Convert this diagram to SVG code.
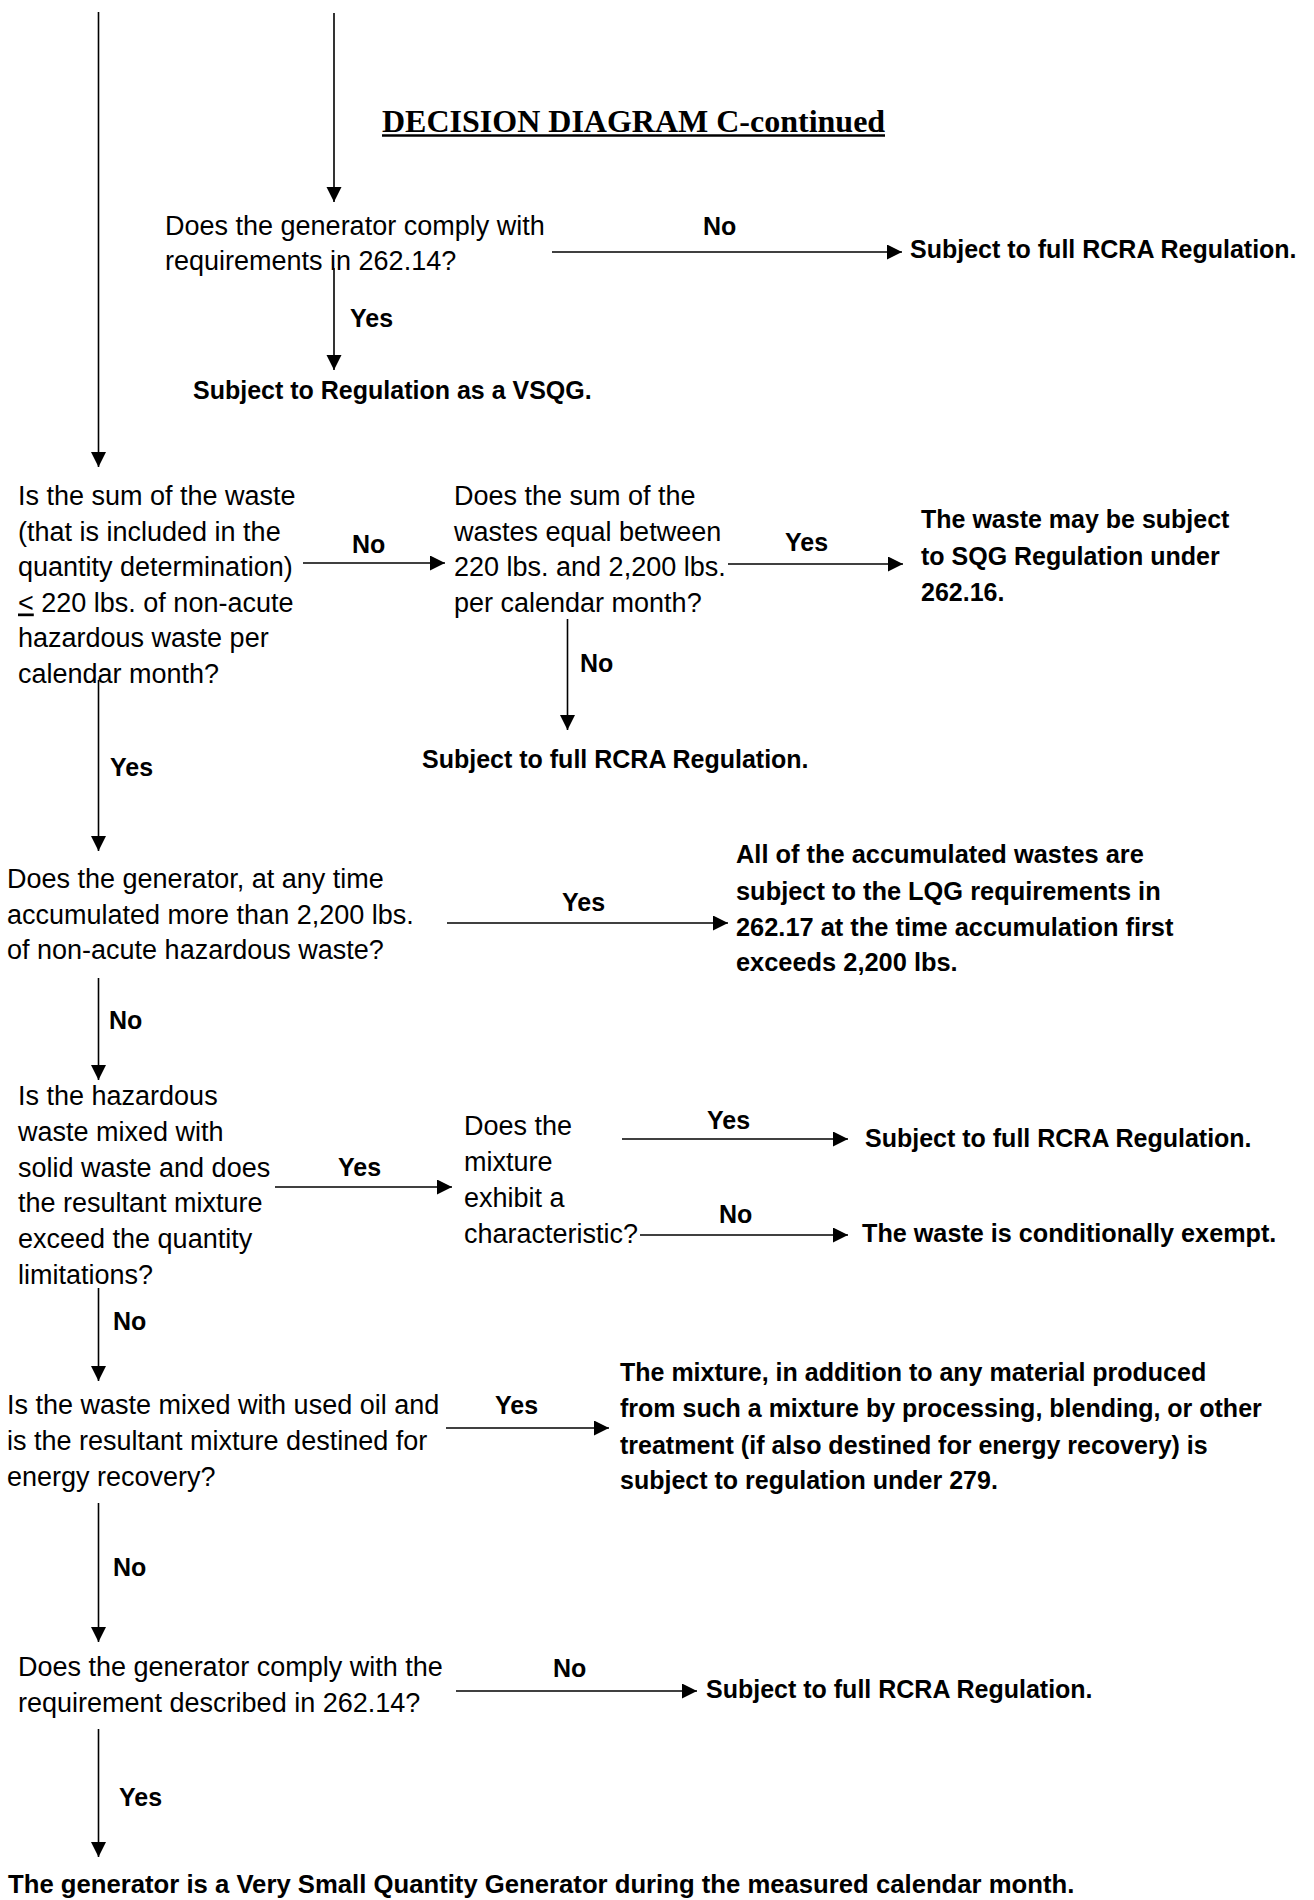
<svg xmlns="http://www.w3.org/2000/svg" width="1314" height="1900" viewBox="0 0 1314 1900">
<style>
  text { fill: #000; }
  .q { font-family: "Liberation Sans", Arial, sans-serif; font-size: 27px; }
  .b { font-family: "Liberation Sans", Arial, sans-serif; font-size: 25px; font-weight: bold; }
  .t { font-family: "Liberation Serif", "Times New Roman", serif; font-size: 32px; font-weight: bold; }
  .c { stroke: #000; stroke-width: 1.6; fill: none; marker-end: url(#ah); }
  .ul { stroke: #000; stroke-width: 2.5; }
</style>
<defs>
  <marker id="ah" markerUnits="userSpaceOnUse" markerWidth="16" markerHeight="16" refX="15" refY="7.5" orient="auto" viewBox="0 0 16 16">
    <path d="M0,0 L15,7.5 L0,15 Z" fill="#000"/>
  </marker>
</defs>
<rect width="1314" height="1900" fill="#fff"/>

<g id="connectors">
  <line class="c" x1="98.5" y1="12" x2="98.5" y2="467"/>
  <line class="c" x1="334" y1="13" x2="334" y2="202"/>
  <line class="c" x1="552" y1="252" x2="902" y2="252"/>
  <line class="c" x1="334" y1="268" x2="334" y2="370"/>
  <line class="c" x1="303" y1="563" x2="445" y2="563"/>
  <line class="c" x1="728" y1="564" x2="903" y2="564"/>
  <line class="c" x1="567.5" y1="619" x2="567.5" y2="730"/>
  <line class="c" x1="98.5" y1="680" x2="98.5" y2="851"/>
  <line class="c" x1="447" y1="923" x2="728" y2="923"/>
  <line class="c" x1="98.5" y1="978" x2="98.5" y2="1080"/>
  <line class="c" x1="275" y1="1187" x2="452" y2="1187"/>
  <line class="c" x1="622" y1="1139" x2="848" y2="1139"/>
  <line class="c" x1="640" y1="1235" x2="848" y2="1235"/>
  <line class="c" x1="98.5" y1="1288" x2="98.5" y2="1381"/>
  <line class="c" x1="446" y1="1428" x2="609" y2="1428"/>
  <line class="c" x1="98.5" y1="1503" x2="98.5" y2="1642"/>
  <line class="c" x1="456" y1="1691" x2="697" y2="1691"/>
  <line class="c" x1="98.5" y1="1729" x2="98.5" y2="1857"/>
</g>

<g id="labels">
  <text class="b" x="703" y="235">No</text>
  <text class="b" x="350" y="327">Yes</text>
  <text class="b" x="352" y="553">No</text>
  <text class="b" x="785" y="551">Yes</text>
  <text class="b" x="580" y="672">No</text>
  <text class="b" x="110" y="776">Yes</text>
  <text class="b" x="562" y="911">Yes</text>
  <text class="b" x="109" y="1029">No</text>
  <text class="b" x="338" y="1176">Yes</text>
  <text class="b" x="707" y="1129">Yes</text>
  <text class="b" x="719" y="1223">No</text>
  <text class="b" x="113" y="1330">No</text>
  <text class="b" x="495" y="1414">Yes</text>
  <text class="b" x="113" y="1576">No</text>
  <text class="b" x="553" y="1677">No</text>
  <text class="b" x="119" y="1806">Yes</text>
</g>

<g id="title">
  <text class="t" x="382" y="132">DECISION DIAGRAM C-continued</text>
  <line class="ul" x1="382" y1="135.5" x2="885" y2="135.5"/>
</g>

<g id="q1">
  <text class="q" x="165" y="235">Does the generator comply with</text>
  <text class="q" x="165" y="270">requirements in 262.14?</text>
</g>
<g id="r1">
  <text class="b" x="910" y="258">Subject to full RCRA Regulation.</text>
</g>
<g id="r2">
  <text class="b" x="193" y="399">Subject to Regulation as a VSQG.</text>
</g>

<g id="q2">
  <text class="q" x="18" y="505">Is the sum of the waste</text>
  <text class="q" x="18" y="540.5">(that is included in the</text>
  <text class="q" x="18" y="576">quantity determination)</text>
  <text class="q" x="18" y="611.5"><tspan text-decoration="underline">&lt;</tspan> 220 lbs. of non-acute</text>
  <text class="q" x="18" y="647">hazardous waste per</text>
  <text class="q" x="18" y="682.5">calendar month?</text>
</g>

<g id="q3">
  <text class="q" x="454" y="505">Does the sum of the</text>
  <text class="q" x="454" y="540.5">wastes equal between</text>
  <text class="q" x="454" y="576">220 lbs. and 2,200 lbs.</text>
  <text class="q" x="454" y="611.5">per calendar month?</text>
</g>

<g id="r3">
  <text class="b" x="921" y="528">The waste may be subject</text>
  <text class="b" x="921" y="565">to SQG Regulation under</text>
  <text class="b" x="921" y="601">262.16.</text>
</g>

<g id="r4">
  <text class="b" x="422" y="768">Subject to full RCRA Regulation.</text>
</g>

<g id="q4">
  <text class="q" x="7" y="888">Does the generator, at any time</text>
  <text class="q" x="7" y="923.5">accumulated more than 2,200 lbs.</text>
  <text class="q" x="7" y="959">of non-acute hazardous waste?</text>
</g>

<g id="r5" style="font-size:25.4px">
  <text class="b" x="736" y="863" style="font-size:25.4px">All of the accumulated wastes are</text>
  <text class="b" x="736" y="900" style="font-size:25.4px">subject to the LQG requirements in</text>
  <text class="b" x="736" y="936" style="font-size:25.4px">262.17 at the time accumulation first</text>
  <text class="b" x="736" y="971" style="font-size:25.4px">exceeds 2,200 lbs.</text>
</g>

<g id="q5">
  <text class="q" x="18" y="1105">Is the hazardous</text>
  <text class="q" x="18" y="1141">waste mixed with</text>
  <text class="q" x="18" y="1177">solid waste and does</text>
  <text class="q" x="18" y="1212">the resultant mixture</text>
  <text class="q" x="18" y="1248">exceed the quantity</text>
  <text class="q" x="18" y="1284">limitations?</text>
</g>

<g id="q5b">
  <text class="q" x="464" y="1135">Does the</text>
  <text class="q" x="464" y="1171">mixture</text>
  <text class="q" x="464" y="1207">exhibit a</text>
  <text class="q" x="464" y="1243">characteristic?</text>
</g>

<g id="r6">
  <text class="b" x="865" y="1147">Subject to full RCRA Regulation.</text>
</g>
<g id="r7">
  <text class="b" x="862" y="1242" style="font-size:25.2px">The waste is conditionally exempt.</text>
</g>

<g id="q6">
  <text class="q" x="7" y="1414">Is the waste mixed with used oil and</text>
  <text class="q" x="7" y="1450">is the resultant mixture destined for</text>
  <text class="q" x="7" y="1486">energy recovery?</text>
</g>

<g id="r8">
  <text class="b" x="620" y="1381">The mixture, in addition to any material produced</text>
  <text class="b" x="620" y="1417">from such a mixture by processing, blending, or other</text>
  <text class="b" x="620" y="1454">treatment (if also destined for energy recovery) is</text>
  <text class="b" x="620" y="1489">subject to regulation under 279.</text>
</g>

<g id="q7">
  <text class="q" x="18" y="1676">Does the generator comply with the</text>
  <text class="q" x="18" y="1712">requirement described in 262.14?</text>
</g>

<g id="r9">
  <text class="b" x="706" y="1698">Subject to full RCRA Regulation.</text>
</g>

<g id="r10">
  <text class="b" x="8" y="1893" style="font-size:25.7px">The generator is a Very Small Quantity Generator during the measured calendar month.</text>
</g>
</svg>
